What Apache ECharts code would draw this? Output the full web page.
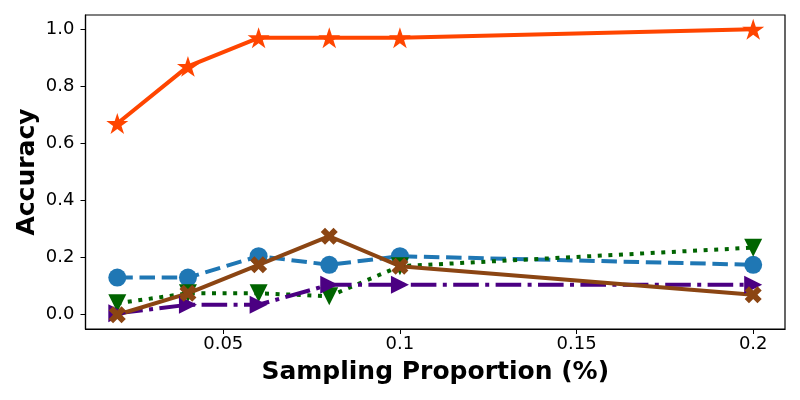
<!DOCTYPE html>
<html>
<head>
<meta charset="utf-8">
<script src="https://cdn.jsdelivr.net/npm/echarts@6/dist/echarts.min.js"></script>
<style>
  html, body { margin: 0; padding: 0; background: #fff; }
  #main { width: 800px; height: 400px; }
</style>
</head>
<body>
<div id="main"></div>
<script>
// 采样比例与各方法的准确率
var proportions = [0.02, 0.04, 0.06, 0.08, 0.1, 0.2];
var xTicks = [0.05, 0.1, 0.15, 0.2];
var yTicks = [0.0, 0.2, 0.4, 0.6, 0.8, 1.0];

var accStar = [0.67, 0.87, 0.97, 0.97, 0.97, 1.0];
var accCircle = [0.13, 0.13, 0.205, 0.175, 0.205, 0.175];
var accTriDown = [0.04, 0.075, 0.075, 0.065, 0.17, 0.235];
var accTriRight = [0.005, 0.035, 0.035, 0.105, 0.105, 0.105];
var accCross = [0.0, 0.075, 0.175, 0.275, 0.17, 0.07];

var myChart = echarts.init(document.getElementById('main'));

var starPath = 'path://M100 0 L122.45 69.1 L195.1 69.1 L136.3 111.8 L158.8 180.9 L100 138.2 L41.2 180.9 L63.7 111.8 L4.9 69.1 L77.55 69.1 Z';
var crossPath = 'path://M25 0 L50 25 L75 0 L100 25 L75 50 L100 75 L75 100 L50 75 L25 100 L0 75 L25 50 L0 25 Z';

function pairs(vals) {
    return proportions.map(function (p, i) { return [p, vals[i]]; });
}

function makeSeries(vals, color, symbol, size, rotate, dash) {
    return {
        type: 'line',
        data: pairs(vals),
        symbol: symbol,
        symbolSize: size,
        symbolRotate: rotate,
        symbolKeepAspect: true,
        showAllSymbol: true,
        animation: false,
        itemStyle: { color: color, opacity: 1 },
        lineStyle: { color: color, width: 4, type: dash, cap: 'butt' }
    };
}

var font = 'DejaVu Sans';

var option = {
    backgroundColor: '#fff',
    animation: false,
    grid: {
        left: 85.5, right: 15, top: 15, bottom: 71,
        show: true, borderColor: '#000', borderWidth: 1.2,
        containLabel: false
    },
    xAxis: {
        type: 'value',
        min: 0.011,
        max: 0.209,
        name: 'Sampling Proportion (%)',
        nameLocation: 'middle',
        nameGap: 31,
        nameMoveOverlap: false,
        nameTextStyle: { fontFamily: font, fontWeight: 'bold', fontSize: 25, color: '#000' },
        axisLine: { show: true, onZero: false, lineStyle: { color: '#000', width: 1.2 } },
        axisTick: { show: true, inside: false, length: 5, customValues: xTicks, lineStyle: { color: '#000' } },
        axisLabel: {
            customValues: xTicks, margin: 6,
            fontFamily: font, fontSize: 18, color: '#000',
            formatter: function (v) { return String(v); }
        },
        splitLine: { show: false }
    },
    yAxis: {
        type: 'value',
        min: -0.05,
        max: 1.05,
        name: 'Accuracy',
        nameLocation: 'middle',
        nameGap: 46,
        nameMoveOverlap: false,
        nameTextStyle: { fontFamily: font, fontWeight: 'bold', fontSize: 25, color: '#000' },
        axisLine: { show: true, onZero: false, lineStyle: { color: '#000', width: 1.2 } },
        axisTick: { show: true, inside: false, length: 5, customValues: yTicks, lineStyle: { color: '#000' } },
        axisLabel: {
            customValues: yTicks, margin: 11,
            fontFamily: font, fontSize: 18, color: '#000',
            formatter: function (v) { return v.toFixed(1); }
        },
        splitLine: { show: false }
    },
    series: [
        makeSeries(accStar, '#FF4500', starPath, 22, 0, 'solid'),
        makeSeries(accCircle, '#1F77B4', 'circle', 18, 0, [15.5, 6.7]),
        makeSeries(accTriDown, '#006400', 'triangle', 18, 180, [4, 6.6]),
        makeSeries(accTriRight, '#4B0082', 'triangle', 18, -90, [25.6, 6.4, 4, 6.4]),
        makeSeries(accCross, '#8B4513', crossPath, 17, 0, 'solid')
    ]
};

myChart.setOption(option);
</script>
</body>
</html>
